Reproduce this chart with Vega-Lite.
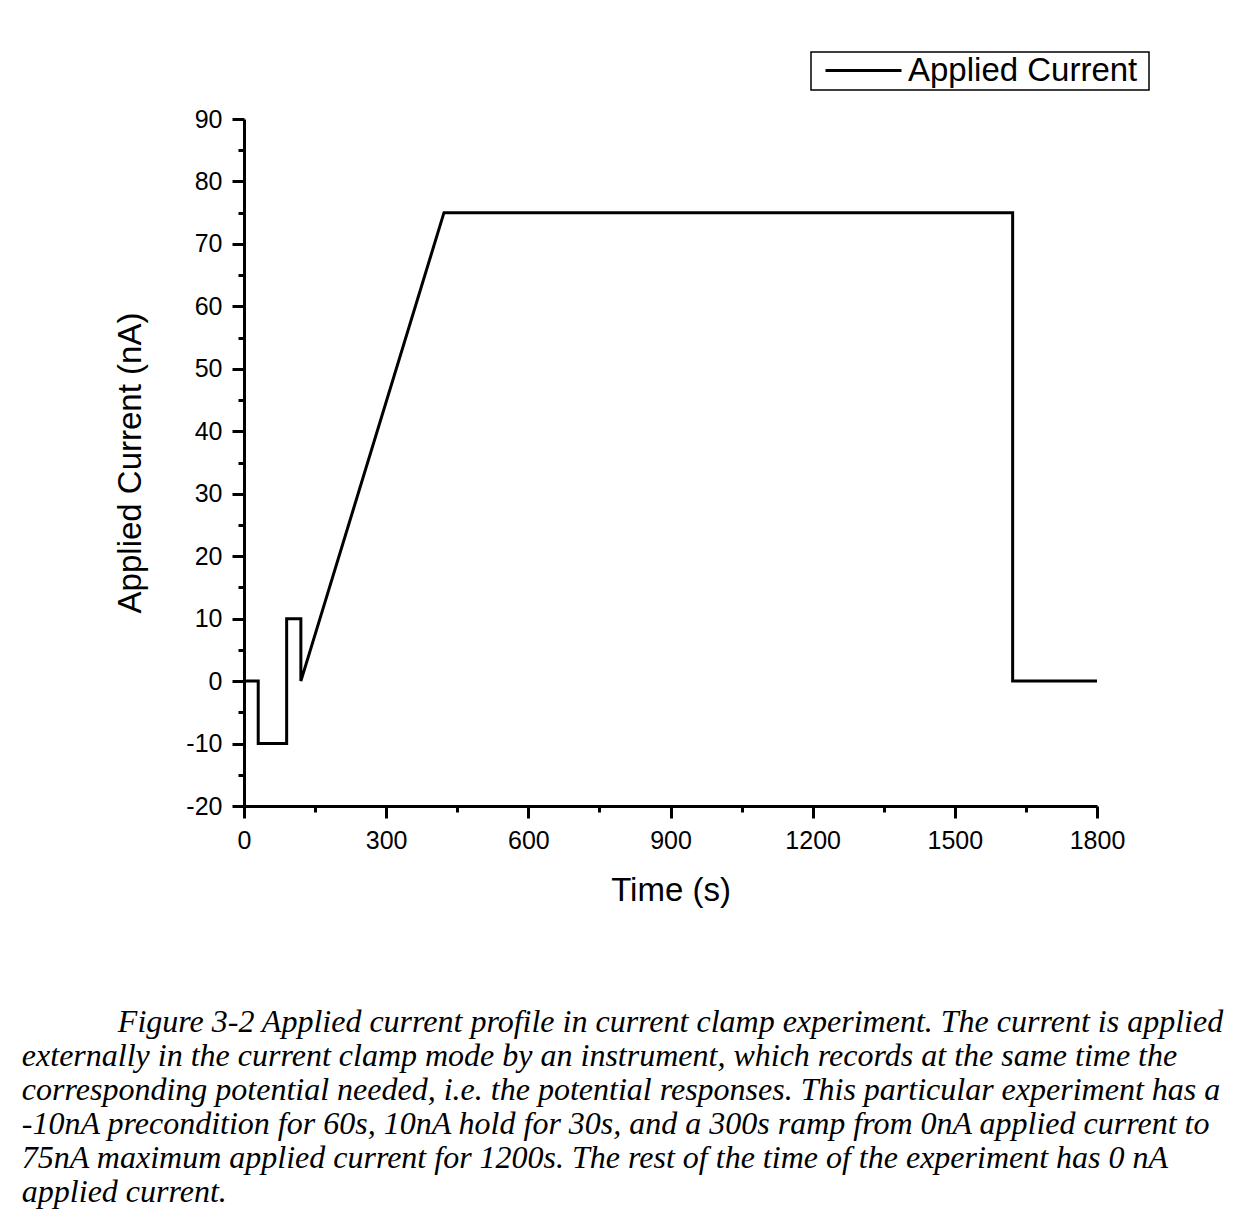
{
  "$schema": "https://vega.github.io/schema/vega-lite/v6.json",
  "width": 853,
  "height": 687,
  "autosize": {"type": "none"},
  "padding": {"left": 244, "top": 119, "right": 147, "bottom": 413},
  "background": "white",
  "config": {
    "view": {"stroke": null},
    "font": "Liberation Sans"
  },
  "title": {
    "text": [
      "\u200b\u00a0\u00a0\u00a0\u00a0\u00a0\u00a0\u00a0\u00a0\u00a0\u00a0\u00a0\u00a0Figure 3-2 Applied current profile in current clamp experiment. The current is applied",
      "externally in the current clamp mode by an instrument, which records at the same time the",
      "corresponding potential needed, i.e. the potential responses. This particular experiment has a",
      "-10nA precondition for 60s, 10nA hold for 30s, and a 300s ramp from 0nA applied current to",
      "75nA maximum applied current for 1200s. The rest of the time of the experiment has 0 nA",
      "applied current."
    ],
    "orient": "bottom",
    "anchor": "start",
    "frame": "bounds",
    "font": "Liberation Serif",
    "fontStyle": "italic",
    "fontWeight": "normal",
    "fontSize": 32,
    "lineHeight": 34,
    "color": "black",
    "dx": -93,
    "offset": 100,
    "limit": 0
  },
  "data": {
    "values": [
      {"i": 0, "time": 0, "current": 0, "series": "Applied Current"},
      {"i": 1, "time": 30, "current": 0, "series": "Applied Current"},
      {"i": 2, "time": 30, "current": -10, "series": "Applied Current"},
      {"i": 3, "time": 90, "current": -10, "series": "Applied Current"},
      {"i": 4, "time": 90, "current": 10, "series": "Applied Current"},
      {"i": 5, "time": 120, "current": 10, "series": "Applied Current"},
      {"i": 6, "time": 120, "current": 0, "series": "Applied Current"},
      {"i": 7, "time": 422, "current": 75, "series": "Applied Current"},
      {"i": 8, "time": 1622, "current": 75, "series": "Applied Current"},
      {"i": 9, "time": 1622, "current": 0, "series": "Applied Current"},
      {"i": 10, "time": 1800, "current": 0, "series": "Applied Current"}
    ]
  },
  "mark": {"type": "line", "strokeWidth": 3, "strokeJoin": "miter", "strokeCap": "butt"},
  "encoding": {
    "x": {
      "field": "time",
      "type": "quantitative",
      "scale": {"domain": [0, 1800], "nice": false, "zero": false},
      "axis": {
        "title": "Time (s)",
        "values": [0, 150, 300, 450, 600, 750, 900, 1050, 1200, 1350, 1500, 1650, 1800],
        "labelExpr": "datum.value % 300 === 0 ? '' + datum.value : ''",
        "grid": false,
        "domainColor": "black",
        "domainWidth": 3,
        "tickColor": "black",
        "tickWidth": 3,
        "tickSize": {"condition": {"test": "datum.value % 300 === 0", "value": 12}, "value": 6},
        "labelFont": "Liberation Sans",
        "labelFontSize": 25,
        "labelColor": "black",
        "labelPadding": 10,
        "labelFlush": false,
        "labelOverlap": false,
        "titleFont": "Liberation Sans",
        "titleFontSize": 33,
        "titleFontWeight": "normal",
        "titleColor": "black",
        "titlePadding": 21
      }
    },
    "y": {
      "field": "current",
      "type": "quantitative",
      "scale": {"domain": [-20, 90], "nice": false, "zero": false},
      "axis": {
        "title": "Applied Current (nA)",
        "values": [-20, -15, -10, -5, 0, 5, 10, 15, 20, 25, 30, 35, 40, 45, 50, 55, 60, 65, 70, 75, 80, 85, 90],
        "labelExpr": "datum.value % 10 === 0 ? '' + datum.value : ''",
        "grid": false,
        "domainColor": "black",
        "domainWidth": 3,
        "tickColor": "black",
        "tickWidth": 3,
        "tickSize": {"condition": {"test": "datum.value % 10 === 0", "value": 12}, "value": 6},
        "labelFont": "Liberation Sans",
        "labelFontSize": 25,
        "labelColor": "black",
        "labelPadding": 10,
        "labelFlush": false,
        "labelOverlap": false,
        "titleFont": "Liberation Sans",
        "titleFontSize": 33,
        "titleFontWeight": "normal",
        "titleColor": "black",
        "titlePadding": 38
      }
    },
    "order": {"field": "i", "type": "quantitative"},
    "color": {
      "field": "series",
      "type": "nominal",
      "scale": {"range": ["black"]},
      "legend": {
        "title": null,
        "orient": "none",
        "legendX": 567,
        "legendY": -67,
        "symbolType": "M-4,0H4",
        "symbolSize": 361,
        "symbolStrokeWidth": 3,
        "symbolStrokeColor": "black",
        "symbolFillColor": "transparent",
        "labelFont": "Liberation Sans",
        "labelFontSize": 33,
        "labelColor": "black",
        "labelOffset": 28,
        "labelLimit": 0,
        "labelExpr": "datum.label + '\u00a0\u200b'",
        "padding": 2,
        "symbolOffset": 34,
        "strokeColor": "black",
        "fillColor": "white",
        "encode": {"legend": {"update": {"strokeWidth": {"value": 1.5}}}}
      }
    }
  }
}
